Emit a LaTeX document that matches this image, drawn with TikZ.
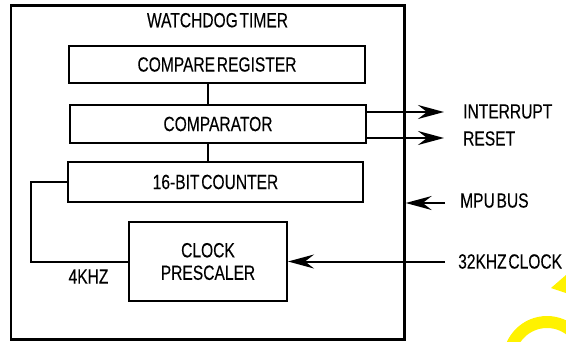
\documentclass[tikz,border=0pt]{standalone}
\usepackage{fontspec}
\setmainfont{Liberation Sans}[FakeStretch=0.76,FakeBold=0.2,WordSpace=0.4]
\usetikzlibrary{arrows.meta}

\begin{document}
\begin{tikzpicture}[x=1pt,y=-1pt,
  font=\fontsize{20.5}{22.5}\selectfont,
  blk/.style={draw,line width=2pt,inner sep=0pt,align=center},
  wire/.style={line width=2pt},
  arr/.style={line width=2pt,-{Stealth[length=26pt,width=14pt,inset=9pt]}},
  lbl/.style={inner sep=0pt,anchor=west}]
\useasboundingbox (0,0) rectangle (566,341);

% outer enclosure
\node[blk,line width=2.4pt,minimum width=393.5pt,minimum height=334pt] (wdt) at (207.75,172.5) {};
\node[inner sep=0pt] (title) at (217.5,20.2) {WATCHDOG TIMER};

% internal blocks
\node[blk,minimum width=296pt,minimum height=37pt] (cr)  at (217,64.5)  {COMPARE REGISTER};
\node[blk,minimum width=296pt,minimum height=38pt] (cmp) at (218,124)   {COMPARATOR};
\node[blk,minimum width=295pt,minimum height=40pt] (cnt) at (215.5,182) {16-BIT COUNTER};
\node[blk,minimum width=158pt,minimum height=79pt] (pre) at (208,261.5) {CLOCK\\PRESCALER};

% helper coordinates
\coordinate (bus) at (208,0);
\coordinate (wl)  at (31,0);
\coordinate (intEnd) at (444,112);
\coordinate (rstEnd) at (444,138);
\coordinate (mpuEnd) at (445,203);
\coordinate (clkEnd) at (445,261.5);

% internal wiring
\draw[wire] (cr.south -| bus) -- (cmp.north -| bus);
\draw[wire] (cmp.south -| bus) -- (cnt.north -| bus);
\draw[wire] (cnt.west) -- (cnt.west -| wl) |- (pre.west);
\node[inner sep=0pt] (khz) at (88.5,276.5) {4KHZ};

% external signals
\draw[arr] (cmp.east |- intEnd) -- (intEnd);
\draw[arr] (cmp.east |- rstEnd) -- (rstEnd);
\draw[arr] (mpuEnd) -- (wdt.east |- mpuEnd);
\draw[arr] (clkEnd) -- (pre.east);

\node[lbl] (int) at (463,111.5) {INTERRUPT};
\node[lbl] (rst) at (463,138.5) {RESET};
\node[lbl] (mpu) at (460,200.5) {MPU BUS};
\node[lbl] (clk) at (458,261.5) {32KHZ CLOCK};

% yellow marks in the lower right corner
\begin{scope}
  \clip (0,0) rectangle (566,341);
  \fill[yellow] (551,288) -- (566,275) -- (566,293) -- cycle;
  \fill[yellow,even odd rule] (547,360) circle (44pt) (547,360) circle (32pt);
\end{scope}
\end{tikzpicture}
\end{document}
